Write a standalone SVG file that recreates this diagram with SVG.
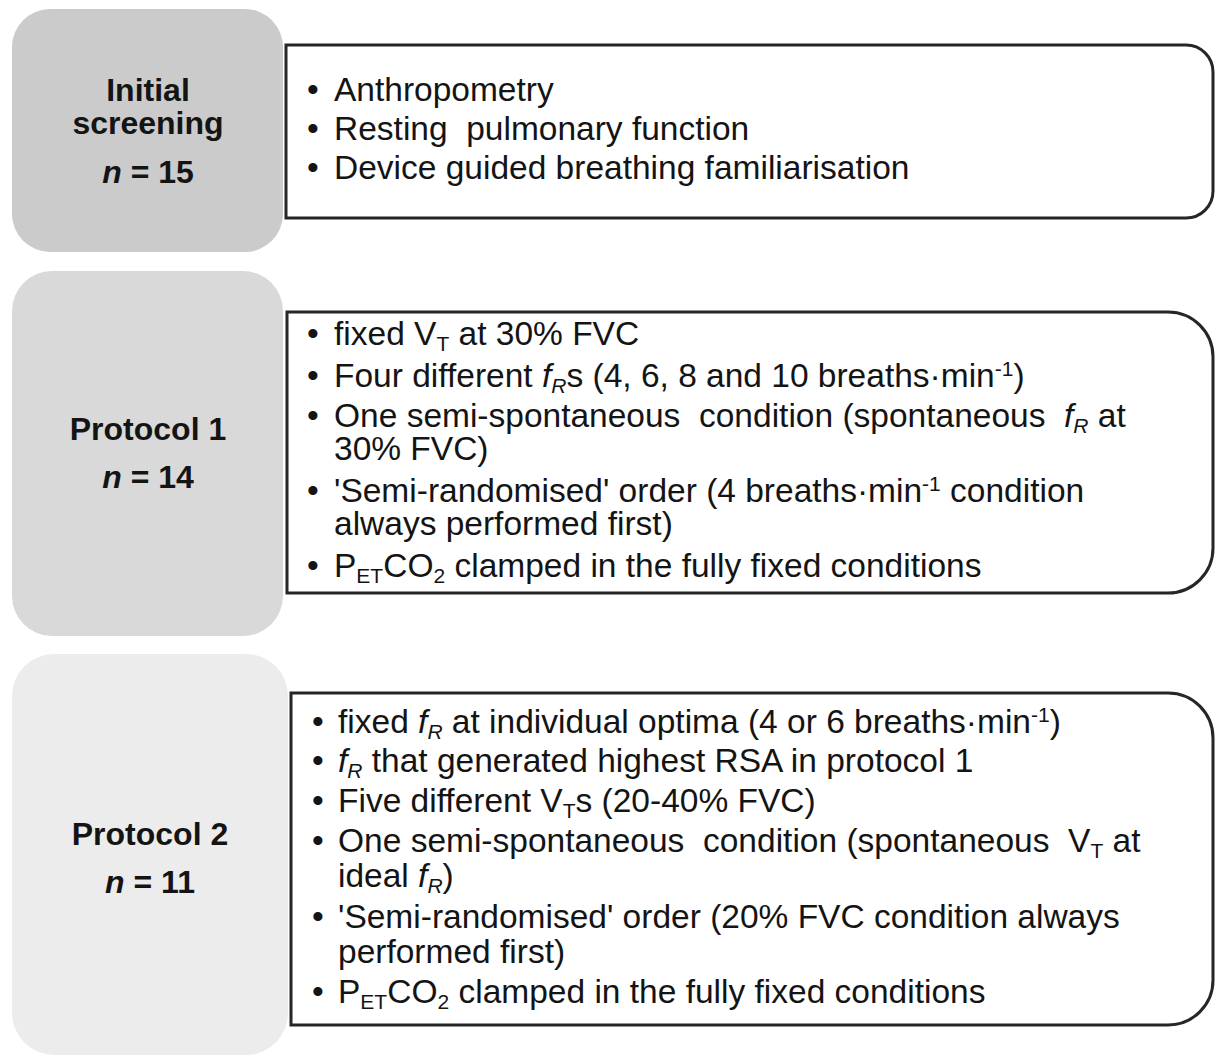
<svg xmlns="http://www.w3.org/2000/svg" width="1219" height="1056" viewBox="0 0 1219 1056">
<style>
  text { font-family: "Liberation Sans", Arial, sans-serif; fill: #141414; white-space: pre; }
  .lbl { font-size: 32px; font-weight: bold; text-anchor: middle; }
  .t { font-size: 33.5px; }
  .sub { font-size: 21px; }
  .i { font-style: italic; }
  .box { fill: #ffffff; stroke: #262626; stroke-width: 3; }
</style>
<rect width="1219" height="1056" fill="#ffffff"/>

<g id="node-initial-screening">
  <rect x="12" y="9" width="271" height="243" rx="38" ry="38" fill="#cbcbcb"/>
  <text class="lbl" x="148" y="101">Initial</text>
  <text class="lbl" x="148" y="134">screening</text>
  <text class="lbl" x="148" y="183"><tspan class="i">n</tspan> = 15</text>
</g>
<g id="node-initial-details">
  <path class="box" d="M286 45 H1186 A27 27 0 0 1 1213 72 V191 A27 27 0 0 1 1186 218 H286 Z"/>
  <text class="t" x="307" y="101">•</text><text class="t" x="334" y="101">Anthropometry</text>
  <text class="t" x="307" y="140">•</text><text class="t" x="334" y="140">Resting  pulmonary function</text>
  <text class="t" x="307" y="179">•</text><text class="t" x="334" y="179">Device guided breathing familiarisation</text>
</g>

<g id="node-protocol-1">
  <rect x="12" y="271" width="271" height="365" rx="40" ry="40" fill="#d9d9d9"/>
  <text class="lbl" x="148" y="440">Protocol 1</text>
  <text class="lbl" x="148" y="488"><tspan class="i">n</tspan> = 14</text>
</g>
<g id="node-protocol-1-details">
  <path class="box" d="M287 312 H1168 A45 45 0 0 1 1213 357 V548 A45 45 0 0 1 1168 593 H287 Z"/>
  <text class="t" x="307" y="345">•</text><text class="t" x="334" y="345">fixed V<tspan class="sub" dy="6">T</tspan><tspan dy="-6"> at 30% FVC</tspan></text>
  <text class="t" x="307" y="387">•</text><text class="t" x="334" y="387">Four different <tspan class="i">f</tspan><tspan class="sub i" dy="6">R</tspan><tspan dy="-6">s (4, 6, 8 and 10 breaths·min</tspan><tspan class="sub" dy="-11">-1</tspan><tspan dy="11">)</tspan></text>
  <text class="t" x="307" y="427">•</text><text class="t" x="334" y="427">One semi-spontaneous  condition (spontaneous  <tspan class="i">f</tspan><tspan class="sub i" dy="6">R</tspan><tspan dy="-6"> at</tspan></text>
  <text class="t" x="334" y="460">30% FVC)</text>
  <text class="t" x="307" y="502">•</text><text class="t" x="334" y="502">'Semi-randomised' order (4 breaths·min<tspan class="sub" dy="-11">-1</tspan><tspan dy="11"> condition</tspan></text>
  <text class="t" x="334" y="535">always performed first)</text>
  <text class="t" x="307" y="577">•</text><text class="t" x="334" y="577">P<tspan class="sub" dy="6">ET</tspan><tspan dy="-6">CO</tspan><tspan class="sub" dy="6">2</tspan><tspan dy="-6"> clamped in the fully fixed conditions</tspan></text>
</g>

<g id="node-protocol-2">
  <rect x="12" y="654" width="276" height="401" rx="42" ry="42" fill="#ececec"/>
  <text class="lbl" x="150" y="845">Protocol 2</text>
  <text class="lbl" x="150" y="893"><tspan class="i">n</tspan> = 11</text>
</g>
<g id="node-protocol-2-details">
  <path class="box" d="M291 693 H1168 A45 45 0 0 1 1213 738 V980 A45 45 0 0 1 1168 1025 H291 Z"/>
  <text class="t" x="312" y="733">•</text><text class="t" x="338" y="733">fixed <tspan class="i">f</tspan><tspan class="sub i" dy="6">R</tspan><tspan dy="-6"> at individual optima (4 or 6 breaths·min</tspan><tspan class="sub" dy="-11">-1</tspan><tspan dy="11">)</tspan></text>
  <text class="t" x="312" y="772">•</text><text class="t" x="338" y="772"><tspan class="i">f</tspan><tspan class="sub i" dy="6">R</tspan><tspan dy="-6"> that generated highest RSA in protocol 1</tspan></text>
  <text class="t" x="312" y="812">•</text><text class="t" x="338" y="812">Five different V<tspan class="sub" dy="6">T</tspan><tspan dy="-6">s (20-40% FVC)</tspan></text>
  <text class="t" x="312" y="852">•</text><text class="t" x="338" y="852">One semi-spontaneous  condition (spontaneous  V<tspan class="sub" dy="6">T</tspan><tspan dy="-6"> at</tspan></text>
  <text class="t" x="338" y="887">ideal <tspan class="i">f</tspan><tspan class="sub i" dy="6">R</tspan><tspan dy="-6">)</tspan></text>
  <text class="t" x="312" y="928">•</text><text class="t" x="338" y="928">'Semi-randomised' order (20% FVC condition always</text>
  <text class="t" x="338" y="963">performed first)</text>
  <text class="t" x="312" y="1003">•</text><text class="t" x="338" y="1003">P<tspan class="sub" dy="6">ET</tspan><tspan dy="-6">CO</tspan><tspan class="sub" dy="6">2</tspan><tspan dy="-6"> clamped in the fully fixed conditions</tspan></text>
</g>

<g id="connectors"></g>
</svg>
